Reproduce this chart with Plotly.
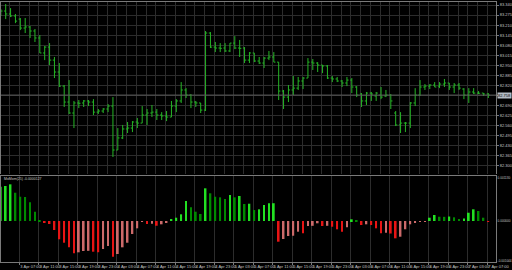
import plotly.graph_objects as go

# ---------------- data ----------------
time_labels = ["2 Apr 2012", "3 Apr 07:00", "3 Apr 11:00", "3 Apr 15:00", "3 Apr 19:00",
               "3 Apr 23:00", "4 Apr 03:00", "4 Apr 07:00", "4 Apr 11:00", "4 Apr 15:00",
               "4 Apr 19:00", "4 Apr 23:00", "5 Apr 03:00", "5 Apr 07:00", "5 Apr 11:00",
               "5 Apr 15:00", "5 Apr 19:00", "5 Apr 23:00", "6 Apr 03:00", "6 Apr 07:00",
               "6 Apr 11:00", "6 Apr 15:00", "6 Apr 19:00", "6 Apr 23:00", "7 Apr 03:00",
               "7 Apr 07:00"]

price_ticks = [83.340, 83.275, 83.210, 83.145, 83.080, 83.015, 82.950, 82.885, 82.820,
               82.755, 82.690, 82.625, 82.560, 82.495, 82.430, 82.365, 82.300]

mom_ticks = [0.001130, 0.0, -0.001044]
mom_tick_text = ["0.001130", "0.000000", "-0.001044"]
mom_title = "MoMom(25) -0.0000127"

open_ = [83.288, 83.301, 83.282, 83.269, 83.249, 83.191, 83.198, 83.172, 83.127, 83.030,
         83.068, 82.984, 82.907, 82.816, 82.713, 82.642, 82.707, 82.707, 82.720, 82.713,
         82.648, 82.655, 82.668, 82.687, 82.403, 82.481, 82.539, 82.545, 82.584, 82.577,
         82.629, 82.642, 82.648, 82.629, 82.623, 82.616, 82.687, 82.720, 82.791, 82.758,
         82.713, 82.707, 82.661, 83.159, 83.068, 83.062, 83.062, 83.043, 83.094, 83.062,
         83.062, 82.984, 83.030, 82.978, 82.965, 82.997, 83.004, 82.971, 82.784, 82.745,
         82.791, 82.803, 82.849, 82.868, 82.971, 82.965, 82.952, 82.946, 82.868, 82.862,
         82.849, 82.836, 82.855, 82.810, 82.765, 82.720, 82.771, 82.752, 82.758, 82.752,
         82.758, 82.642, 82.565, 82.577, 82.577, 82.707, 82.758, 82.810, 82.816, 82.823,
         82.816, 82.829, 82.836, 82.810, 82.823, 82.797, 82.758, 82.778, 82.771, 82.771,
         82.765]
high = [83.314, 83.346, 83.320, 83.282, 83.256, 83.256, 83.204, 83.185, 83.146, 83.075,
        83.094, 83.004, 82.965, 82.823, 82.855, 82.720, 82.726, 82.726, 82.726, 82.732,
        82.668, 82.674, 82.700, 82.745, 82.545, 82.565, 82.584, 82.590, 82.610, 82.687,
        82.668, 82.694, 82.668, 82.648, 82.655, 82.720, 82.732, 82.842, 82.803, 82.765,
        82.720, 82.707, 83.172, 83.165, 83.101, 83.094, 83.094, 83.094, 83.139, 83.114,
        83.068, 83.036, 83.030, 83.004, 83.004, 83.043, 83.036, 82.971, 82.791, 82.823,
        82.881, 82.875, 82.875, 82.997, 82.991, 82.971, 82.952, 82.952, 82.881, 82.875,
        82.855, 82.875, 82.868, 82.816, 82.771, 82.778, 82.778, 82.778, 82.810, 82.791,
        82.765, 82.655, 82.648, 82.584, 82.713, 82.803, 82.855, 82.829, 82.829, 82.842,
        82.842, 82.862, 82.836, 82.836, 82.836, 82.803, 82.803, 82.803, 82.784, 82.771,
        82.771]
low = [83.269, 83.249, 83.262, 83.223, 83.178, 83.159, 83.127, 83.101, 83.030, 82.984,
       82.952, 82.868, 82.810, 82.681, 82.636, 82.545, 82.674, 82.681, 82.687, 82.629,
       82.636, 82.642, 82.648, 82.358, 82.403, 82.474, 82.513, 82.519, 82.545, 82.577,
       82.565, 82.616, 82.597, 82.597, 82.590, 82.616, 82.648, 82.707, 82.739, 82.674,
       82.681, 82.642, 82.655, 83.062, 83.036, 83.036, 83.036, 83.036, 83.055, 83.004,
       82.965, 82.965, 82.971, 82.959, 82.933, 82.984, 82.971, 82.726, 82.668, 82.713,
       82.758, 82.791, 82.797, 82.868, 82.920, 82.907, 82.900, 82.862, 82.842, 82.842,
       82.810, 82.816, 82.771, 82.745, 82.681, 82.694, 82.720, 82.720, 82.732, 82.745,
       82.668, 82.558, 82.513, 82.519, 82.545, 82.687, 82.752, 82.791, 82.797, 82.810,
       82.803, 82.810, 82.791, 82.771, 82.791, 82.732, 82.707, 82.765, 82.765, 82.752,
       82.739]
close = [83.301, 83.282, 83.269, 83.236, 83.191, 83.198, 83.172, 83.127, 83.030, 83.068,
         82.984, 82.907, 82.816, 82.713, 82.642, 82.707, 82.705, 82.720, 82.713, 82.648,
         82.655, 82.668, 82.687, 82.403, 82.481, 82.539, 82.545, 82.584, 82.577, 82.629,
         82.642, 82.648, 82.629, 82.623, 82.616, 82.687, 82.720, 82.791, 82.758, 82.713,
         82.707, 82.661, 83.159, 83.068, 83.062, 83.060, 83.043, 83.094, 83.062, 83.060,
         82.984, 83.030, 82.978, 82.965, 82.997, 83.004, 82.971, 82.784, 82.745, 82.791,
         82.803, 82.849, 82.868, 82.971, 82.965, 82.952, 82.946, 82.868, 82.862, 82.849,
         82.836, 82.855, 82.810, 82.758, 82.720, 82.771, 82.765, 82.771, 82.745, 82.758,
         82.720, 82.565, 82.577, 82.577, 82.707, 82.758, 82.810, 82.816, 82.823, 82.810,
         82.829, 82.836, 82.810, 82.823, 82.803, 82.758, 82.778, 82.771, 82.770, 82.765,
         82.758]

momentum = [0.000900, 0.000921, 0.000965, 0.000744, 0.000639, 0.000631, 0.000492, 0.000245,
            0.000008, -0.000045, -0.000079, -0.000237, -0.000481, -0.000571, -0.000692,
            -0.000849, -0.000823, -0.000789, -0.000784, -0.000807, -0.000821, -0.000736,
            -0.000658, -0.000939, -0.000868, -0.000692, -0.000571, -0.000342, -0.000192,
            -0.000018, -0.000079, -0.000074, -0.000124, -0.000087, -0.000045, 0.000053,
            0.000087, 0.000176, 0.000526, 0.000360, 0.000245, 0.000184, 0.000860, 0.000729,
            0.000639, 0.000623, 0.000579, 0.000684, 0.000623, 0.000658, 0.000447, 0.000455,
            0.000289, 0.000308, 0.000421, 0.000466, 0.000468, -0.000544, -0.000473,
            -0.000395, -0.000387, -0.000281, -0.000323, -0.000132, -0.000126, -0.000060,
            -0.000132, -0.000126, -0.000150, -0.000218, -0.000281, -0.000166, 0.000045,
            0.000026, -0.000105, -0.000087, -0.000105, -0.000192, -0.000323, -0.000308,
            -0.000329, -0.000455, -0.000413, -0.000218, -0.000087, -0.000045, -0.000018,
            -0.000008, 0.000087, 0.000158, 0.000113, 0.000110, 0.000118, 0.000097, 0.000053,
            0.000066, 0.000218, 0.000308, 0.000263, 0.000087, -0.000013]

# ---------------- styling ----------------
W, H = 512, 270
BAR_GREEN = "#26b526"
LIME, DKGREEN, RED, PINK = "#22e022", "#008a00", "#e81414", "#cc6a6a"
GRID = "#2c2c2c"
BORDER = "#7a7a7a"
TXT = "#c4c4c4"
FONT = "Liberation Sans"
GRID_SHIFT = -0.2   # separators sit just left of their bar

x = list(range(len(close)))

colors = []
for k, v in enumerate(momentum):
    prev = momentum[k - 1] if k > 0 else v
    if v >= 0:
        colors.append(LIME if v >= prev else DKGREEN)
    else:
        colors.append(RED if v < prev else PINK)

bid = close[-1]
# the bid label box covers the price tick right under it
price_text = ["" if abs(p - bid) < 0.02 else f"{p:.3f}" for p in price_ticks]

fig = go.Figure()
fig.add_trace(go.Ohlc(
    x=x, open=open_, high=high, low=low, close=close,
    xaxis="x2", yaxis="y2", tickwidth=0.34, hoverinfo="skip",
    increasing=dict(line=dict(color=BAR_GREEN, width=1)),
    decreasing=dict(line=dict(color=BAR_GREEN, width=1)),
))
fig.add_trace(go.Bar(
    x=x, y=momentum, xaxis="x", yaxis="y", width=0.36,
    marker=dict(color=colors, line=dict(width=0)), hoverinfo="skip",
))

xdom = [1 / W, 496 / W]
xr = [0.036, 101.58]
up_dom = [96 / H, 268 / H]
lo_dom = [8 / H, 94 / H]

fig.update_layout(
    width=W, height=H, margin=dict(l=0, r=0, t=0, b=0, autoexpand=False),
    paper_bgcolor="black", plot_bgcolor="black", showlegend=False,
    font=dict(family=FONT, color=TXT, size=4),
    xaxis=dict(domain=xdom, range=xr, anchor="y", automargin=False,
               tickvals=[k + GRID_SHIFT for k in range(0, 101, 4)],
               ticktext=time_labels, tickangle=0,
               ticklabelposition="outside right", ticklabeloverflow="allow",
               tickfont=dict(size=4, color=TXT, family=FONT),
               ticks="outside", ticklen=2, tickcolor=BORDER,
               showgrid=True, gridcolor=GRID, gridwidth=1, zeroline=False,
               showline=True, mirror=True, linecolor=BORDER, linewidth=1),
    yaxis=dict(domain=lo_dom, range=[-0.001078, 0.001184], anchor="x", side="right",
               automargin=False, tickvals=mom_ticks, ticktext=mom_tick_text,
               tickfont=dict(size=3.1, color=TXT, family=FONT),
               ticks="", ticklen=0,
               showgrid=False, zeroline=False,
               showline=True, mirror=True, linecolor=BORDER, linewidth=1),
    xaxis2=dict(domain=xdom, range=xr, anchor="y2", matches="x", automargin=False,
                tickvals=[k + GRID_SHIFT for k in range(0, 101, 2)],
                showticklabels=False, ticks="",
                showgrid=True, gridcolor=GRID, gridwidth=1, zeroline=False,
                showline=True, side="top", mirror=False, linecolor=BORDER, linewidth=1,
                rangeslider=dict(visible=False)),
    yaxis2=dict(domain=up_dom, range=[82.2481, 83.3594], anchor="x2", side="right",
                automargin=False, tickvals=price_ticks, ticktext=price_text,
                tickfont=dict(size=4, color=TXT, family=FONT),
                ticks="outside", ticklen=2, tickcolor=BORDER,
                showgrid=True, gridcolor=GRID, gridwidth=1, zeroline=False,
                showline=True, mirror=True, linecolor=BORDER, linewidth=1),
)

# bid line at last close and its price label
fig.add_shape(type="line", xref="paper", x0=xdom[0], x1=xdom[1],
              yref="y2", y0=bid, y1=bid,
              line=dict(color="#5a5a5a", width=1))
fig.add_annotation(xref="paper", x=497 / W, xanchor="left", yref="y2", y=bid,
                   yanchor="middle", text=f"{bid:.3f}", showarrow=False,
                   bgcolor="#b4bcc4", font=dict(size=4, color="black", family=FONT),
                   borderpad=0)
fig.add_annotation(xref="paper", x=2 / W, xanchor="left", y=(H - 179) / H, yref="paper",
                   yanchor="middle", text=mom_title, showarrow=False,
                   font=dict(size=3.5, color=TXT, family=FONT))

fig.write_html("out.html")
